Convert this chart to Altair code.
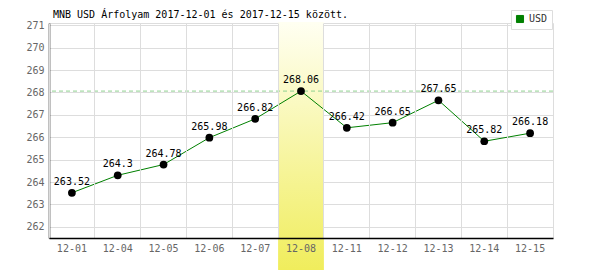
import altair as alt
import pandas as pd

dates = ["12-01", "12-04", "12-05", "12-06", "12-07", "12-08",
         "12-11", "12-12", "12-13", "12-14", "12-15"]
values = [263.52, 264.3, 264.78, 265.98, 266.82, 268.06,
          266.42, 266.65, 267.65, 265.82, 266.18]
y_ticks = [262, 263, 264, 265, 266, 267, 268, 269, 270, 271]
highlight = ["12-08"]
series = "USD"
title = "MNB USD Árfolyam 2017-12-01 és 2017-12-15 között."

df = pd.DataFrame({"date": dates, "value": values,
                   "label": [f"{v:g}" for v in values],
                   "series": [series] * len(dates)})
hl = pd.DataFrame({"date": highlight})
mx = pd.DataFrame({"value": [max(values)]})
tt = pd.DataFrame({"t": [title]})

W, H = 504, 215
FONT = "DejaVu Sans Mono"

xscale = alt.Scale(domain=dates, paddingInner=0, paddingOuter=0)
yscale = alt.Scale(domain=[261.5, 271.1], nice=False, zero=False)

xaxis = alt.Axis(title=None, labelAngle=0, tickSize=0, labelPadding=5,
                 labelColor="#666", labelFont=FONT, labelFontSize=10,
                 domainColor="#000", domainWidth=1.5, grid=True,
                 gridColor="#ddd", bandPosition=0, zindex=1)
yaxis = alt.Axis(title=None, values=y_ticks, tickCount=10, labelOverlap=False,
                 labelFlush=False, tickSize=0, labelPadding=5,
                 labelColor="#666", labelFont=FONT, labelFontSize=10,
                 domainColor="#000", domainWidth=1.5, grid=True,
                 gridColor="#ddd")

band = alt.Chart(hl).mark_rect(
    fill=alt.Gradient(gradient="linear", x1=0, y1=0, x2=0, y2=1,
                      stops=[alt.GradientStop(color="#fffff2", offset=0),
                             alt.GradientStop(color="#f0ed5c", offset=1)])
).encode(
    x=alt.X("date:N", scale=xscale, axis=xaxis),
    y=alt.value(-1), y2=alt.value(H + 32)
)

maxline = alt.Chart(mx).mark_rule(color="#8fd18f", strokeDash=[4, 3], strokeWidth=1).encode(
    y=alt.Y("value:Q", scale=yscale, axis=yaxis)
)

line = alt.Chart(df).mark_line(strokeWidth=1).encode(
    x=alt.X("date:N", scale=xscale, axis=xaxis),
    y=alt.Y("value:Q", scale=yscale, axis=yaxis),
    color=alt.Color("series:N", scale=alt.Scale(range=["#008000"]),
                    legend=alt.Legend(title=None, orient="none",
                                      legendX=462, legendY=-13,
                                      symbolType="square", symbolSize=50,
                                      symbolFillColor="#008000",
                                      symbolStrokeColor="#005000",
                                      symbolStrokeWidth=1,
                                      labelFont=FONT, labelFontSize=10,
                                      labelColor="#333",
                                      padding=4, fillColor="white",
                                      strokeColor="#ddd"))
)

points = alt.Chart(df).mark_circle(size=60, color="#000", opacity=1).encode(
    x=alt.X("date:N", scale=xscale),
    y=alt.Y("value:Q", scale=yscale)
)

labels = alt.Chart(df).mark_text(dy=-11, font=FONT, fontSize=10, color="#000").encode(
    x=alt.X("date:N", scale=xscale),
    y=alt.Y("value:Q", scale=yscale),
    text="label:N"
)

ttl = alt.Chart(tt).mark_text(align="left", baseline="alphabetic", font=FONT,
                              fontSize=10, color="#000").encode(
    x=alt.value(4), y=alt.value(-5), text="t:N"
)

chart = alt.layer(band, maxline, line, points, labels, ttl).properties(
    width=W, height=H,
    padding={"left": 49, "top": 23, "right": 47, "bottom": 32},
    autosize=alt.AutoSizeParams(type="none")
).configure_view(stroke="#ddd").configure(background="white")

chart.save("out.html", embed_options={"renderer": "svg", "actions": False})
